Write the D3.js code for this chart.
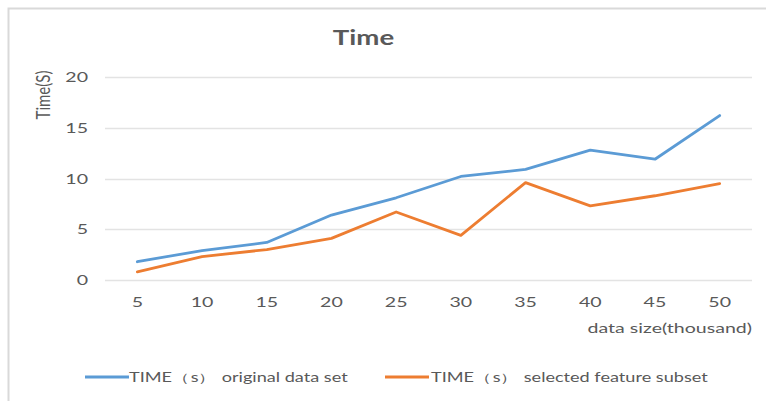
<!DOCTYPE html>
<html><head><meta charset="utf-8">
<script src="https://cdn.jsdelivr.net/npm/d3@7"></script>
<style>body{margin:0;background:#fff;}svg{display:block;}</style>
</head><body>
<svg id="c" width="766" height="401"></svg>
<script>
const categories = [5,10,15,20,25,30,35,40,45,50];
const originalSet = [1.8,2.9,3.7,6.4,8.1,10.2,10.9,12.8,11.9,16.2];
const selectedSubset = [0.8,2.3,3.0,4.1,6.7,4.4,9.6,7.3,8.3,9.5];
const yTicks = [0,5,10,15,20];
const seriesNames = ["TIME\uFF08s\uFF09 original data set","TIME\uFF08s\uFF09 selected feature subset"];
const colors = ["#5b9bd5","#ed7d31"];

const svg = d3.select("#c");
const font = "Lato, 'Open Sans', sans-serif";
const gray = "#595959";
const K = 1.45; // horizontal stretch of the text in the reference

// frame
svg.append("path").attr("d","M8.5,401 V8.5 H766").attr("fill","none").attr("stroke","#d9d9d9").attr("stroke-width",2);

const x = d3.scaleBand().domain(categories).range([105,752]).padding(0);
const y = d3.scaleLinear().domain([0,20]).range([280,77]);

// gridlines
svg.append("g").selectAll("line").data(yTicks).join("line")
  .attr("x1",105).attr("x2",752).attr("y1",d=>Math.round(y(d))+0.5).attr("y2",d=>Math.round(y(d))+0.5)
  .attr("stroke","#e3e3e3").attr("stroke-width",1.3);

// y axis
const ya = svg.append("g").attr("transform","translate(88,0)")
  .call(d3.axisLeft(y).tickValues(yTicks).tickSize(0).tickPadding(0));
ya.select(".domain").remove();
ya.selectAll("text").attr("font-family",font).attr("font-size",13.5).attr("fill",gray).attr("dy","0.35em")
  .attr("transform",`scale(${K},1)`);

// x axis
const xa = svg.append("g").attr("transform","translate(0,298)")
  .call(d3.axisBottom(x).tickSize(0).tickPadding(0));
xa.select(".domain").remove();
xa.selectAll("text").attr("font-family",font).attr("font-size",13.5).attr("fill",gray).attr("dy","0.7em")
  .attr("transform",`scale(${K},1)`);

// lines
const line = d3.line().x((d,i)=>x(categories[i])+x.bandwidth()/2).y(d=>y(d));
[originalSet,selectedSubset].forEach((s,k)=>{
  svg.append("path").datum(s).attr("d",line).attr("fill","none")
    .attr("stroke",colors[k]).attr("stroke-width",2.8).attr("stroke-linejoin","round").attr("stroke-linecap","round");
});

function label(px,py,txt,opts){
  const t = svg.append("text").attr("transform",`translate(${px},${py}) scale(${opts.k||K},1)${opts.rot?" rotate(-90)":""}`)
    .attr("text-anchor",opts.anchor||"start").attr("font-family",font)
    .attr("font-size",opts.size).attr("fill",gray).text(txt);
  if(opts.bold) t.attr("font-weight","bold");
  return t;
}

// title
label(363.5,45,"Time",{anchor:"middle",size:20,bold:true,k:1.38});
// axis titles
label(50,95,"Time(S)",{anchor:"middle",size:15,rot:true,k:1.25});
label(752,333,"data size(thousand)",{anchor:"end",size:13.5});

// legend
const lg = [{x:85,tx:129},{x:385,tx:431}];
lg.forEach((p,k)=>{
  svg.append("line").attr("x1",p.x).attr("x2",p.x+44).attr("y1",377).attr("y2",377)
    .attr("stroke",colors[k]).attr("stroke-width",2.8);
  label(p.tx,382,seriesNames[k],{size:12.5});
});
</script>
</body></html>
